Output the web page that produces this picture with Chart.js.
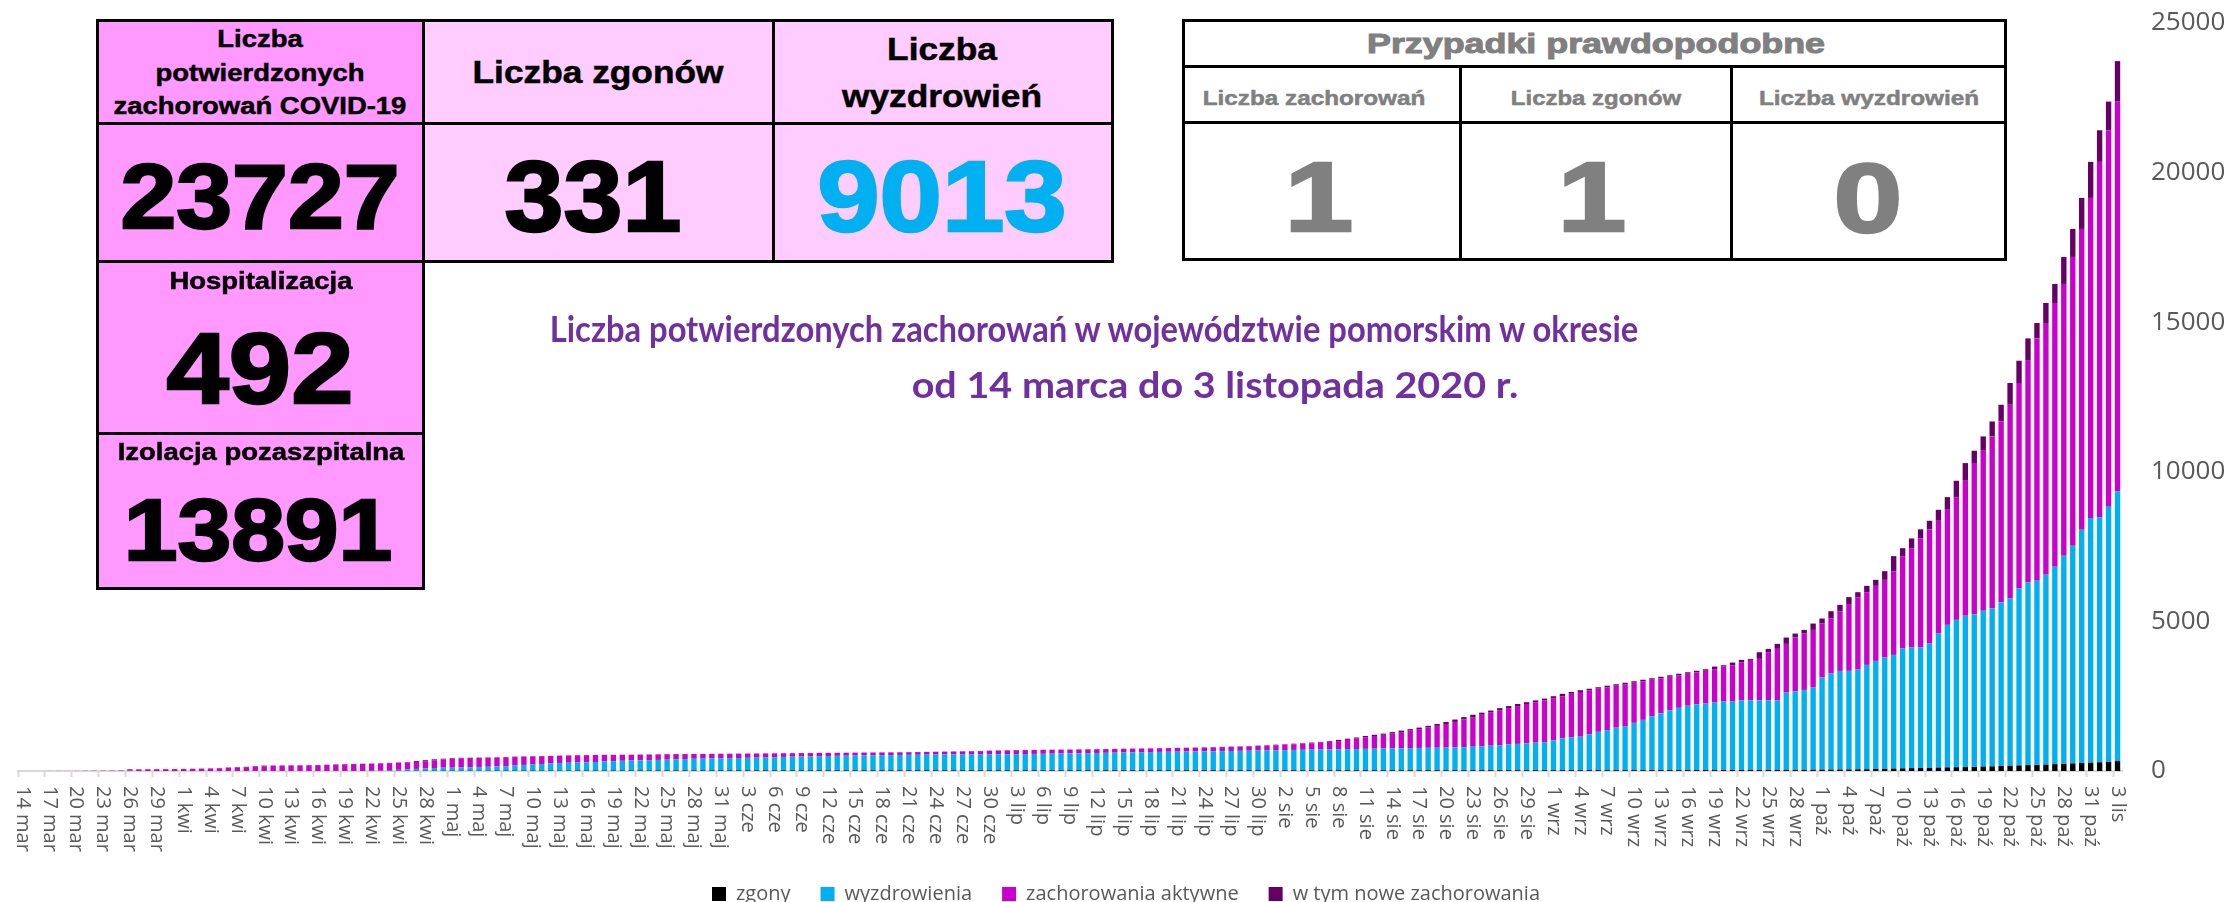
<!DOCTYPE html>
<html lang="pl">
<head>
<meta charset="utf-8">
<title>COVID-19 – województwo pomorskie</title>
<script src="https://cdn.jsdelivr.net/npm/chart.js@4.4.1/dist/chart.umd.min.js"></script>
<style>
  html, body { margin: 0; padding: 0; background: #fff; overflow: hidden; }
  #wrap { position: relative; width: 2234px; height: 902px; overflow: hidden; }
  #wrap canvas { position: absolute; left: 0; top: 0; }
  .cell { position: absolute; box-sizing: border-box; border: 3px solid #000; }
  .pink { background: #FF99FF; }
  .light { background: #FFCCFF; }
  .white { background: #fff; }
  .txt { position: absolute; white-space: nowrap; line-height: 1; font-family: "Liberation Sans", Arial, sans-serif; font-weight: bold; color: #000; -webkit-text-stroke-width: 0.5px; }
  .big { -webkit-text-stroke-width: 2.5px; }
  .grey { color: #808080; }
  .title { font-family: Lato, "Open Sans", sans-serif; color: #7030A0; font-size: 37px; -webkit-text-stroke-width: 0; }
</style>
</head>
<body>
<div id="wrap">
  <canvas id="chart" width="2234" height="914"></canvas>

  <!-- left summary table -->
  <div class="cell pink"  style="left:96px;top:19px;width:329px;height:106px"></div>
  <div class="cell light" style="left:422px;top:19px;width:353px;height:106px"></div>
  <div class="cell light" style="left:772px;top:19px;width:342px;height:106px"></div>
  <div class="cell pink"  style="left:96px;top:122px;width:329px;height:141px"></div>
  <div class="cell light" style="left:422px;top:122px;width:353px;height:141px"></div>
  <div class="cell light" style="left:772px;top:122px;width:342px;height:141px"></div>
  <div class="cell pink"  style="left:96px;top:260px;width:329px;height:175px"></div>
  <div class="cell pink"  style="left:96px;top:432px;width:329px;height:158px"></div>

  <div class="txt" data-s="1.12" style="left:260px;top:39px;font-size:24.5px">Liczba</div>
  <div class="txt" data-s="1.12" style="left:260px;top:72.5px;font-size:24.5px">potwierdzonych</div>
  <div class="txt" data-s="1.12" style="left:260px;top:106px;font-size:24.5px">zachorowań COVID-19</div>
  <div class="txt" data-s="1.12" style="left:598px;top:73px;font-size:31.5px">Liczba zgonów</div>
  <div class="txt" data-s="1.12" style="left:942px;top:50px;font-size:31.5px">Liczba</div>
  <div class="txt" data-s="1.12" style="left:942px;top:97px;font-size:31.5px">wyzdrowień</div>
  <div class="txt big" data-w="279" style="left:260px;top:195.5px;font-size:91px">23727</div>
  <div class="txt big" data-w="177" style="left:593px;top:196px;font-size:100px">331</div>
  <div class="txt big" data-w="249" style="left:942px;top:196px;font-size:100px;color:#00B0F0">9013</div>
  <div class="txt" data-s="1.12" style="left:261px;top:281px;font-size:24.5px">Hospitalizacja</div>
  <div class="txt big" data-w="187" style="left:259.5px;top:367.5px;font-size:100px">492</div>
  <div class="txt" data-s="1.12" style="left:260.5px;top:451.5px;font-size:24.5px">Izolacja pozaszpitalna</div>
  <div class="txt big" data-w="269" style="left:257.5px;top:530px;font-size:88px">13891</div>

  <!-- right table: probable cases -->
  <div class="cell white" style="left:1182px;top:19px;width:825px;height:49px"></div>
  <div class="cell white" style="left:1182px;top:65px;width:280px;height:59px"></div>
  <div class="cell white" style="left:1459px;top:65px;width:274px;height:59px"></div>
  <div class="cell white" style="left:1730px;top:65px;width:277px;height:59px"></div>
  <div class="cell white" style="left:1182px;top:121px;width:280px;height:140px"></div>
  <div class="cell white" style="left:1459px;top:121px;width:274px;height:140px"></div>
  <div class="cell white" style="left:1730px;top:121px;width:277px;height:140px"></div>

  <div class="txt grey" data-w="458" style="left:1596px;top:44px;font-size:27px;-webkit-text-stroke-width:1px">Przypadki prawdopodobne</div>
  <div class="txt grey" data-w="222" style="left:1314px;top:98px;font-size:20px">Liczba zachorowań</div>
  <div class="txt grey" data-w="170" style="left:1596px;top:98px;font-size:20px">Liczba zgonów</div>
  <div class="txt grey" data-w="220" style="left:1869px;top:98px;font-size:20px">Liczba wyzdrowień</div>
  <div class="txt grey big" data-s="1.25" style="left:1319px;top:196px;font-size:99px">1</div>
  <div class="txt grey big" data-s="1.25" style="left:1592px;top:196px;font-size:99px">1</div>
  <div class="txt grey big" data-s="1.25" style="left:1868px;top:196.5px;font-size:99px">0</div>

  <!-- chart title -->
  <div class="txt title" data-w="1088" style="left:1094px;top:327px">Liczba potwierdzonych zachorowań w województwie pomorskim w okresie</div>
  <div class="txt title" data-w="607" style="left:1215px;top:383px">od 14 marca do 3 listopada 2020 r.</div>
</div>

<script>
// Daily categories, 14 March – 3 November 2020
const dni = [
  "14 mar","15 mar","16 mar","17 mar","18 mar","19 mar","20 mar","21 mar","22 mar","23 mar","24 mar","25 mar","26 mar","27 mar","28 mar","29 mar","30 mar","31 mar",
  "1 kwi","2 kwi","3 kwi","4 kwi","5 kwi","6 kwi","7 kwi","8 kwi","9 kwi","10 kwi","11 kwi","12 kwi","13 kwi","14 kwi","15 kwi","16 kwi","17 kwi","18 kwi","19 kwi","20 kwi","21 kwi","22 kwi","23 kwi","24 kwi","25 kwi","26 kwi","27 kwi","28 kwi","29 kwi","30 kwi",
  "1 maj","2 maj","3 maj","4 maj","5 maj","6 maj","7 maj","8 maj","9 maj","10 maj","11 maj","12 maj","13 maj","14 maj","15 maj","16 maj","17 maj","18 maj","19 maj","20 maj","21 maj","22 maj","23 maj","24 maj","25 maj","26 maj","27 maj","28 maj","29 maj","30 maj","31 maj",
  "1 cze","2 cze","3 cze","4 cze","5 cze","6 cze","7 cze","8 cze","9 cze","10 cze","11 cze","12 cze","13 cze","14 cze","15 cze","16 cze","17 cze","18 cze","19 cze","20 cze","21 cze","22 cze","23 cze","24 cze","25 cze","26 cze","27 cze","28 cze","29 cze","30 cze",
  "1 lip","2 lip","3 lip","4 lip","5 lip","6 lip","7 lip","8 lip","9 lip","10 lip","11 lip","12 lip","13 lip","14 lip","15 lip","16 lip","17 lip","18 lip","19 lip","20 lip","21 lip","22 lip","23 lip","24 lip","25 lip","26 lip","27 lip","28 lip","29 lip","30 lip","31 lip",
  "1 sie","2 sie","3 sie","4 sie","5 sie","6 sie","7 sie","8 sie","9 sie","10 sie","11 sie","12 sie","13 sie","14 sie","15 sie","16 sie","17 sie","18 sie","19 sie","20 sie","21 sie","22 sie","23 sie","24 sie","25 sie","26 sie","27 sie","28 sie","29 sie","30 sie","31 sie",
  "1 wrz","2 wrz","3 wrz","4 wrz","5 wrz","6 wrz","7 wrz","8 wrz","9 wrz","10 wrz","11 wrz","12 wrz","13 wrz","14 wrz","15 wrz","16 wrz","17 wrz","18 wrz","19 wrz","20 wrz","21 wrz","22 wrz","23 wrz","24 wrz","25 wrz","26 wrz","27 wrz","28 wrz","29 wrz","30 wrz",
  "1 paź","2 paź","3 paź","4 paź","5 paź","6 paź","7 paź","8 paź","9 paź","10 paź","11 paź","12 paź","13 paź","14 paź","15 paź","16 paź","17 paź","18 paź","19 paź","20 paź","21 paź","22 paź","23 paź","24 paź","25 paź","26 paź","27 paź","28 paź","29 paź","30 paź","31 paź",
  "1 lis","2 lis","3 lis"
];

// Stacked segments (cases)
const zgony = [
  0,0,0,0,0,0,0,0,0,0,0,0,0,0,0,0,0,0,0,0,
  1,1,1,2,2,2,3,3,3,4,4,4,5,5,5,6,6,6,7,7,7,8,8,8,9,9,10,10,
  10,10,11,11,11,12,12,12,13,13,13,14,14,14,15,15,15,16,16,16,17,17,17,18,18,18,19,19,19,20,20,
  20,20,20,20,20,20,20,20,20,20,21,21,21,21,21,21,21,21,21,21,22,22,22,22,22,22,22,22,22,22,
  22,22,22,22,22,22,22,22,22,22,23,23,23,23,23,23,23,23,23,23,24,24,24,24,24,24,24,24,24,24,24,
  24,24,24,24,24,24,24,24,24,24,25,25,25,25,25,25,25,25,25,25,26,26,26,26,26,26,26,26,26,26,26,
  26,26,27,27,27,28,28,28,29,29,29,30,30,30,31,31,31,32,32,32,33,33,33,34,34,
  35,36,38,40,42,45,47,50,52,56,60,66,72,80,88,95,100,106,112,120,126,132,138,146,155,
  165,175,185,196,205,215,228,240,252,266,280,292,308,331
];
const wyzdrowienia = [
  0,0,0,0,0,0,0,0,0,0,0,0,0,0,0,0,0,0,0,0,0,0,0,0,0,0,0,0,0,0,0,0,0,0,0,0,0,0,0,
  5,10,20,30,45,60,75,90,100,
  100,105,115,125,130,140,150,170,190,205,220,240,255,262,268,272,285,300,315,325,332,338,345,352,360,370,380,390,395,400,402,
  410,415,420,425,430,440,450,460,465,470,475,480,485,490,495,500,505,510,512,515,518,520,524,528,530,532,534,536,536,536,
  538,540,542,545,548,552,556,560,565,570,575,580,585,590,595,600,605,610,615,620,622,625,628,632,636,640,645,650,655,660,665,
  670,675,680,685,690,693,696,700,705,710,715,720,725,730,735,740,745,750,752,755,760,770,785,800,820,840,860,880,900,920,940,
  1000,1070,1100,1120,1200,1280,1340,1420,1470,1580,1680,1800,1900,2000,2080,2150,2200,
  2220,2254,2287,2287,2331,2331,2331,2331,2331,2584,2627,2669,2746,3077,3209,3295,3295,3334,3486,3614,3719,3800,4004,4031,4031,4153,4482,4764,4925,5053,5103,5206,5275,
  5477,5590,5925,6104,6151,6341,6596,6952,7274,7795,8172,8193,8523,9013
];
const aktywne = [
  0,1,1,2,3,4,5,6,8,10,12,15,18,55,58,60,62,64,66,70,
  75,81,89,98,113,128,137,157,177,181,184,186,187,191,195,204,216,226,231,
  232,233,234,234,232,231,246,260,280,
  300,315,314,309,309,303,298,288,277,272,262,246,236,239,242,243,235,219,209,199,196,190,188,185,182,177,166,159,156,152,153,
  148,145,143,140,138,130,122,115,113,110,107,105,102,99,96,94,92,89,89,89,88,90,90,90,93,96,99,102,107,112,
  120,128,131,133,133,132,132,131,129,128,126,125,124,123,122,122,122,122,122,122,124,126,128,130,132,136,139,142,146,151,159,
  168,181,191,203,216,233,255,276,311,346,380,425,460,495,540,585,630,675,733,790,854,924,989,1054,1104,1154,1214,1264,1314,1354,1394,
  1394,1404,1453,1493,1473,1442,1432,1402,1401,1341,1291,1220,1170,1120,1089,1069,1069,
  1098,1115,1171,1216,1260,1349,1382,1605,1717,1628,1795,1885,1928,1806,1840,1996,2208,2419,2430,2508,2598,2799,3089,3322,3646,3814,3769,3846,4103,4515,5050,5352,5753,
  6040,6476,6857,7412,8102,8417,8818,9086,9655,10056,10702,11873,12584,13029
];
const nowe = [
  1,0,1,1,1,1,1,2,2,2,3,3,
  37,3,2,2,2,2,4,6,6,8,10,15,15,10,20,20,5,3,2,2,4,4,10,12,10,6,6,6,12,10,13,15,30,30,30,20,
  20,10,5,5,5,5,10,10,10,5,5,5,10,10,5,5,0,5,0,5,0,5,5,5,5,0,3,2,2,3,3,
  2,3,2,3,2,2,3,3,2,3,3,2,2,2,3,3,2,2,3,3,4,4,4,5,5,5,5,5,5,10,
  10,5,5,3,3,4,3,3,4,4,4,4,4,4,5,5,5,5,5,5,5,5,6,6,8,8,8,9,10,13,14,
  18,15,17,18,20,25,25,40,40,40,50,40,40,50,50,50,50,60,60,70,80,80,80,70,70,80,70,70,60,60,60,
  80,80,60,60,50,50,50,50,50,50,50,50,50,50,50,50,50,
  51,89,45,89,89,33,223,112,167,212,134,122,212,168,245,212,256,167,212,201,290,502,267,324,301,290,367,424,546,591,413,479,499,
  559,726,745,746,515,669,636,903,936,1037,1204,1057,958,1354
];

const osYMax = 25000;
const osYKrok = 5000;

// fit the overlay table / title texts to their measured widths
document.querySelectorAll(".txt").forEach((el) => {
  const s = el.dataset.w ? parseFloat(el.dataset.w) / el.offsetWidth : parseFloat(el.dataset.s || "1");
  el.style.transform = `translate(-50%, -50%) scaleX(${s})`;
});

// x labels are written top-to-bottom (rotated +90°), which Chart.js can't do itself
const etykietyPionowe = {
  id: "etykietyPionowe",
  afterDraw(chart) {
    const { ctx } = chart;
    const x = chart.scales.x;
    ctx.save();
    ctx.font = '20px "Open Sans"';
    ctx.fillStyle = "#595959";
    ctx.textAlign = "left";
    ctx.textBaseline = "middle";
    dni.forEach((d, i) => {
      if (i % 3) return;
      ctx.save();
      ctx.translate(x.getPixelForValue(i), x.top + 15);
      ctx.rotate(Math.PI / 2);
      ctx.fillText(d, 0, 0);
      ctx.restore();
    });
    ctx.restore();
  },
};

Chart.defaults.font.family = '"Open Sans", sans-serif';
Chart.defaults.color = "#595959";

// plot area wanted: left 18, top 23, right 2122, bottom 771
let wysOsiX = 80;
let szerOsiY = 112;
const pad = { left: 18, top: 23, right: 0, bottom: 0 };

const wykres = new Chart(document.getElementById("chart"), {
  type: "bar",
  data: {
    labels: dni,
    datasets: [
      { label: "zgony", data: zgony, backgroundColor: "#000000" },
      { label: "wyzdrowienia", data: wyzdrowienia, backgroundColor: "#00B0F0" },
      { label: "zachorowania aktywne", data: aktywne, backgroundColor: "#CC00CC" },
      { label: "w tym nowe zachorowania", data: nowe, backgroundColor: "#660066" },
    ],
  },
  options: {
    responsive: false,
    animation: false,
    layout: { padding: { ...pad } },
    datasets: { bar: { barPercentage: 0.6, categoryPercentage: 1, borderWidth: 0 } },
    plugins: {
      tooltip: { enabled: false },
      legend: {
        position: "bottom",
        labels: { boxWidth: 14, boxHeight: 14, padding: 30, color: "#595959", font: { size: 20 } },
      },
    },
    scales: {
      x: {
        stacked: true,
        ticks: { display: false, autoSkip: false },
        grid: {
          offset: true,
          drawOnChartArea: false,
          drawTicks: true,
          tickLength: 6,
          tickWidth: 2,
          color: (c) => (c.index % 3 === 0 ? "#d9d9d9" : "rgba(0,0,0,0)"),
        },
        border: { color: "#d9d9d9", width: 2 },
        afterFit: (s) => { s.height = wysOsiX; },
      },
      y: {
        stacked: true,
        position: "right",
        min: 0,
        max: osYMax,
        // the gap before the labels comes from an (invisible) tick length, so the
        // tick padding does not push the plot top down
        ticks: { stepSize: osYKrok, padding: 0, color: "#595959", font: { size: 26 }, callback: (v) => String(v) },
        grid: { display: false, drawTicks: true, tickLength: 29 },
        border: { display: false },
        afterFit: (s) => { s.width = szerOsiY; },
      },
    },
  },
  plugins: [etykietyPionowe],
});

// nudge the layout until the plot area sits where the reference has it
for (let k = 0; k < 3; k++) {
  const ca = wykres.chartArea;
  pad.top += 23 - ca.top;
  pad.left += 18 - ca.left;
  wysOsiX += ca.bottom - 771;
  szerOsiY += ca.right - 2122;
  wykres.options.layout.padding = { ...pad };
  wykres.update();
}
</script>
</body>
</html>
